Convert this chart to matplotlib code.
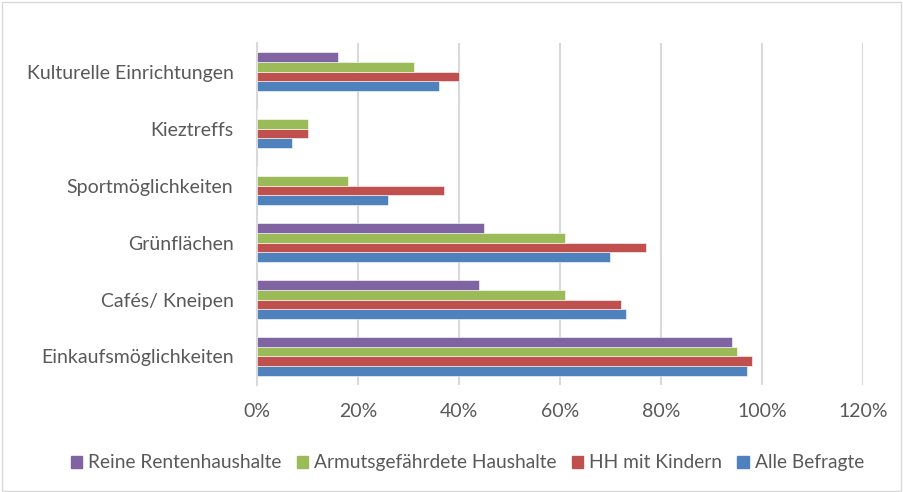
import matplotlib.pyplot as plt
import numpy as np
from matplotlib.patches import Patch

categories = ['Einkaufsmöglichkeiten', 'Cafés/ Kneipen', 'Grünflächen',
              'Sportmöglichkeiten', 'Kieztreffs', 'Kulturelle Einrichtungen']
alle = [97, 73, 70, 26, 7, 36]
kinder = [98, 72, 77, 37, 10, 40]
armut = [95, 61, 61, 18, 10, 31]
rente = [94, 44, 45, 0, 0, 16]

series = [('Alle Befragte', alle, '#4F81BD'),
          ('HH mit Kindern', kinder, '#C0504D'),
          ('Armutsgefährdete Haushalte', armut, '#9BBB59'),
          ('Reine Rentenhaushalte', rente, '#8064A2')]

plt.rcParams['font.family'] = ['Lato', 'DejaVu Sans']
txt = '#595959'

fig = plt.figure(figsize=(9.04, 4.92), dpi=100)
ax = fig.add_axes([0.2843, 0.2175, 0.6703, 0.695])

y = np.arange(len(categories))
h = 0.172
for i, (name, vals, col) in enumerate(series):
    ax.barh(y + (i - 1.5) * h, np.array(vals) / 100, height=h, color=col,
            edgecolor='white', linewidth=0.4, label=name, zorder=3)

ax.set_xlim(0, 1.2)
ax.set_ylim(-0.5, len(categories) - 0.5)
ax.set_xticks(np.arange(0, 1.21, 0.2))
ax.set_xticklabels([f'{int(round(t * 100))}%' for t in np.arange(0, 1.21, 0.2)])
ax.set_yticks(y)
ax.set_yticklabels(categories)
ax.tick_params(length=0, labelsize=14, colors=txt)
ax.tick_params(axis='x', pad=13)
ax.tick_params(axis='y', pad=17)
ax.grid(axis='x', color='#D9D9D9', linewidth=1.5, zorder=0)
for s in ['top', 'right', 'bottom']:
    ax.spines[s].set_visible(False)
ax.spines['left'].set_color('#D9D9D9')
ax.spines['left'].set_linewidth(1.5)

handles = [Patch(color=c, label=n) for n, _, c in series[::-1]]
fig.legend(handles=handles, loc='center', bbox_to_anchor=(0.517, 0.059), ncol=4,
           frameon=False, fontsize=13.8, labelcolor=txt, handlelength=0.6,
           handleheight=0.6, handletextpad=0.3, columnspacing=0.8)

fig.patches.append(plt.Rectangle((0.002, 0.003), 0.995, 0.993, transform=fig.transFigure,
                                 fill=False, edgecolor='#D9D9D9', linewidth=1))

fig.savefig('out.png', dpi=100)
